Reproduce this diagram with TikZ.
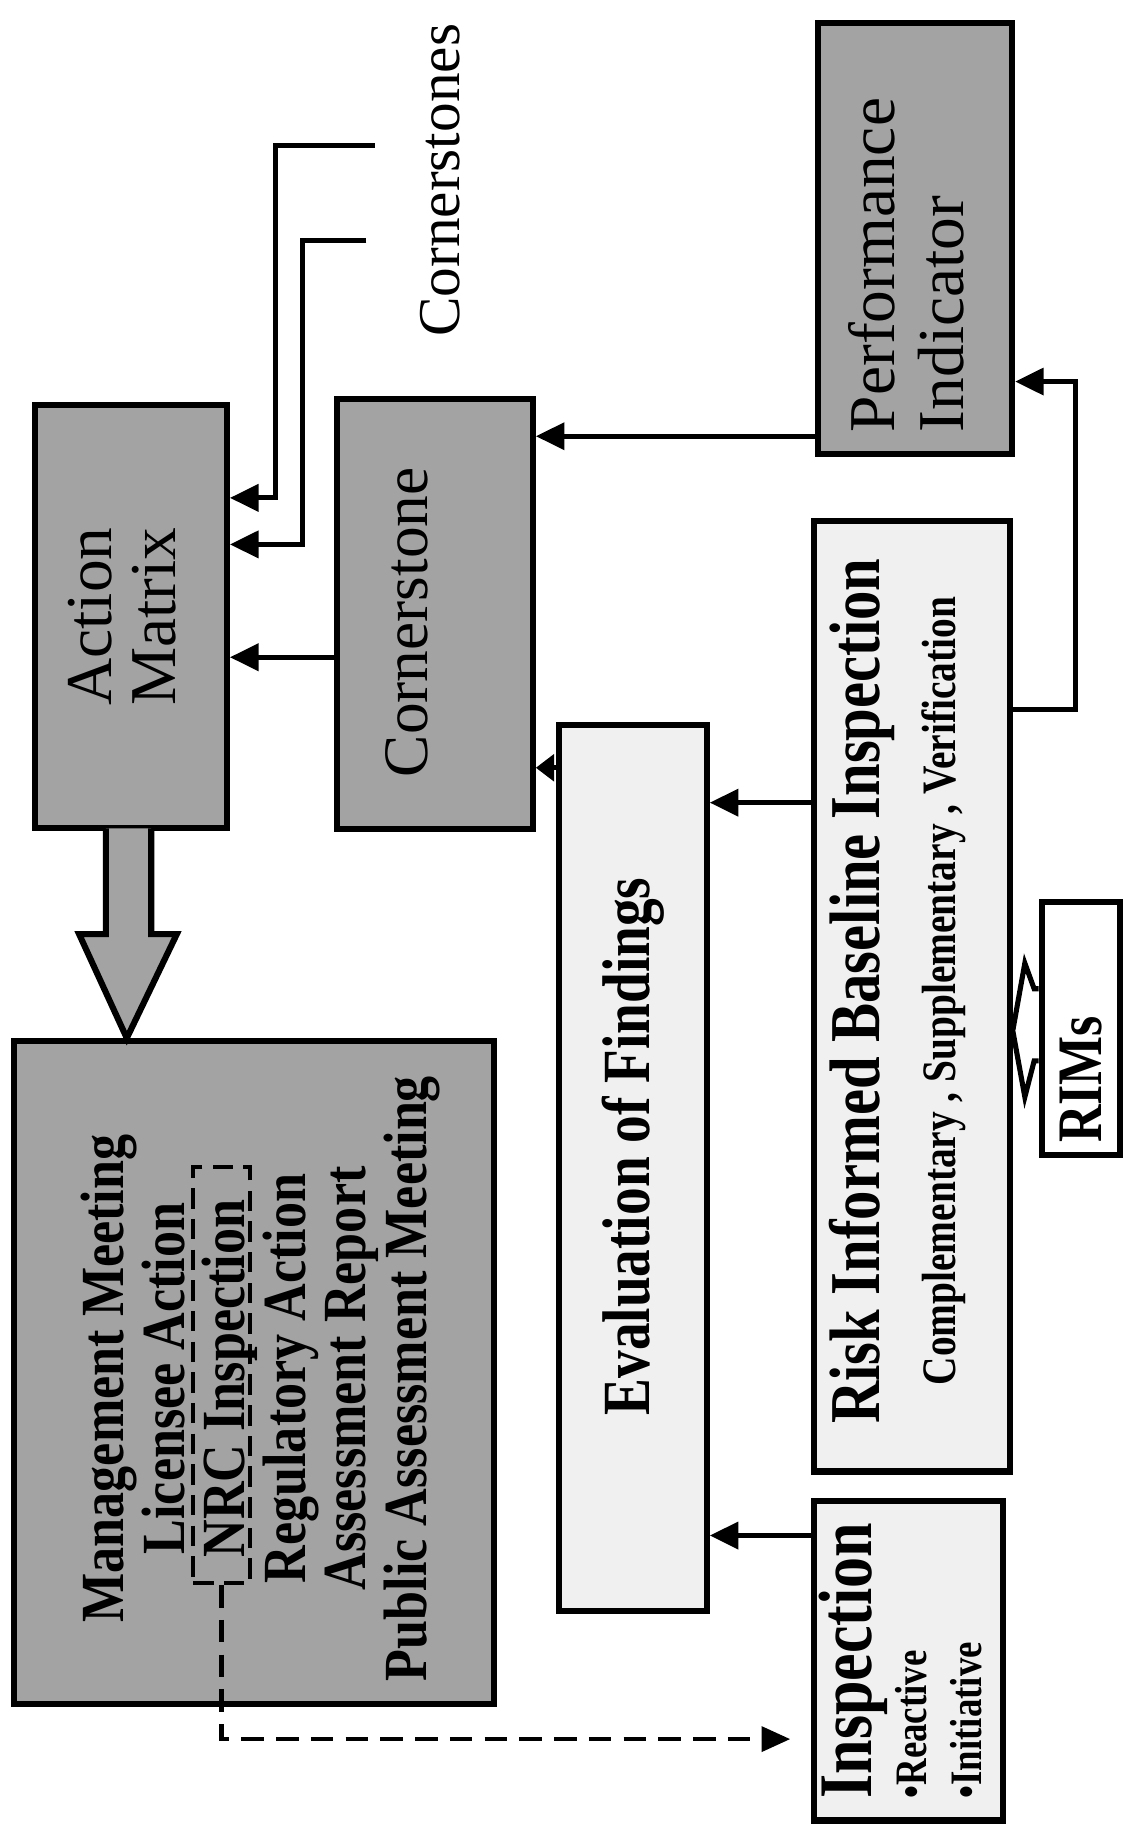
\documentclass[tikz,border=0pt]{standalone}
\usepackage{fontspec}
\setmainfont{Liberation Serif}
\usepackage{graphicx}
\usetikzlibrary{arrows.meta,calc}
\begin{document}
\begin{tikzpicture}[x=0.02cm,y=-0.02cm,
  darkbox/.style={draw, line width=3pt, fill=black!36, inner sep=0pt},
  lightbox/.style={draw, line width=3pt, fill=black!6, inner sep=0pt},
  txt/.style={inner sep=0pt},
  conn/.style={line width=2.5pt, -{Triangle[length=14pt,width=13pt]}},
  shortconn/.style={line width=2.5pt, -{Triangle[length=9pt,width=13pt]}},
  dconn/.style={line width=2.3pt, dash pattern=on 11pt off 6pt, -{Triangle[length=14pt,width=12pt]}},
]
\useasboundingbox (0,0) rectangle (965,1568);

% ---------- boxes ----------
\node[darkbox, minimum width=3.30cm, minimum height=7.28cm] (am) at (112.5,530)
  {\rotatebox{90}{\fontsize{32}{31}\selectfont\begin{tabular}{@{}l@{}}Action\\Matrix\end{tabular}}};

\node[darkbox, minimum width=3.36cm, minimum height=7.4cm] (cs) at (374,528) {};
\node[txt] (cst) at (350,535) {\rotatebox{90}{\fontsize{31}{31}\selectfont Cornerstone}};

\node[darkbox, minimum width=3.34cm, minimum height=7.4cm] (pi) at (786.5,205)
  {\rotatebox{90}{\fontsize{32}{34}\selectfont\begin{tabular}{@{}l@{}}Performance\\Indicator\end{tabular}\hspace*{26pt}}};

\node[darkbox, minimum width=8.26cm, minimum height=11.4cm] (mm) at (218.5,1180) {};
\node[txt] (mmt) at (226,1185)
  {\rotatebox{90}{\scalebox{0.85}[1]{\fontsize{30}{29.5}\selectfont\bfseries
   \begin{tabular}{@{}c@{}}Management Meeting\\Licensee Action\\NRC Inspection\\Regulatory Action\\Assessment Report\\Public Assessment Meeting\end{tabular}}}};

\node[lightbox, minimum width=2.54cm, minimum height=15.24cm] (ev) at (544,1004)
  {\rotatebox{90}{\hspace*{21pt}\scalebox{0.82}[1]{\fontsize{33}{33}\selectfont\bfseries Evaluation of Findings}}};

\node[lightbox, minimum width=3.36cm, minimum height=16.34cm] (ri) at (784,856.5) {};
\node[txt] (rit) at (776,852)
  {\rotatebox{90}{\scalebox{0.82}[1]{\bfseries\fontsize{35}{33}\selectfont
   \begin{tabular}{@{}c@{}}Risk Informed Baseline Inspection\\[4pt]
   \fontsize{23.5}{25}\selectfont Complementary , Supplementary , Verification\end{tabular}}}};

\node[lightbox, minimum width=3.24cm, minimum height=5.5cm] (in) at (781,1427.5)
  {\rotatebox{90}{\scalebox{0.82}[1]{\bfseries\fontsize{37}{27}\selectfont
   \begin{tabular}{@{}l@{}}Inspection\\ \fontsize{22}{24}\selectfont •Reactive\\ \fontsize{22}{24}\selectfont •Initiative\end{tabular}}}};

\node[draw, line width=3pt, fill=white, inner sep=0pt, minimum width=1.34cm, minimum height=4.36cm] (rim) at (929,884)
  {\rotatebox{90}{\scalebox{0.82}[1]{\bfseries\fontsize{31}{31}\selectfont RIMs}\hspace*{50pt}}};

\node[rotate=90, txt, font=\fontsize{29}{29}\selectfont] (lbl) at (378,155) {Cornerstones};

% dashed frame round "NRC Inspection"
\node[draw, line width=2pt, dash pattern=on 10pt off 5pt, inner sep=0pt,
      minimum width=0.98cm, minimum height=7.16cm] (nrc) at (190.5,1182) {};

% ---------- connectors ----------
\coordinate (cA) at (322,125);
\coordinate (cB) at (315,207);
\draw[conn] (cA) -| (237,428) -- (am.east |- 0,428);
\draw[conn] (cB) -| (260,468) -- (am.east |- 0,468);

\draw[conn] (cs.west |- 0,565) -- (am.east |- 0,565);
\draw[conn] (pi.west |- 0,375) -- (cs.east |- 0,375);
\draw[shortconn] (ev.west |- 0,660) -- (cs.east |- 0,660);
\draw[conn] (ri.east |- 0,610) -- ++(54,0) |- (pi.east |- 0,328);
\draw[conn] (ri.west |- 0,690) -- (ev.east |- 0,690);
\draw[conn] (in.west |- 0,1320) -- (ev.east |- 0,1320);

\draw[dconn, shorten >=0.36cm] (nrc.south) -- (190.5,1495) -- (in.west |- 0,1495);

% block arrow Action Matrix -> Management
\draw[line width=3pt, fill=black!36, line join=miter]
  ($(am.south)+(-21.5,-2.5)$) -- (91,803) -- (68,803) -- (mm.north -| 109,0) -- (152,803) -- (130,803) -- ($(am.south)+(17.5,-2.5)$);

% hollow arrow RIMs -> Risk box
\draw[line width=2.5pt, fill=white, line join=miter]
  (rim.west |- 0,850) -- (889,850) -- (881,828) -- (ri.east |- 0,886) -- (881,943) -- (889,912) -- (rim.west |- 0,912);
\end{tikzpicture}
\end{document}
